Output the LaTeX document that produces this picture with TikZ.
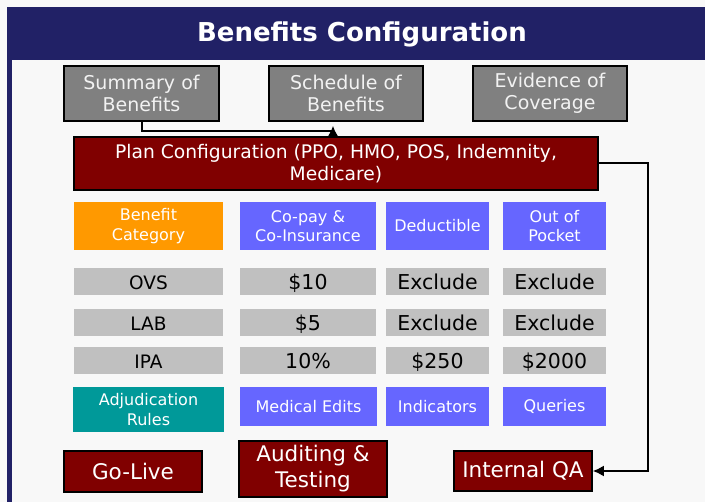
\documentclass[tikz,border=0pt]{standalone}
\usepackage{fontspec}
\setmainfont{DejaVu Sans}
\usetikzlibrary{arrows.meta,calc}
\definecolor{navy}{RGB}{33,33,102}
\definecolor{bg}{RGB}{248,248,248}
\definecolor{boxgray}{RGB}{128,128,128}
\definecolor{boxtext}{RGB}{242,242,242}
\definecolor{darkred}{RGB}{128,0,0}
\definecolor{orng}{RGB}{255,153,0}
\definecolor{violet}{RGB}{102,102,255}
\definecolor{cellgray}{RGB}{192,192,192}
\definecolor{teal}{RGB}{0,153,153}
\tikzset{
  box/.style={draw=black, line width=1.5pt, inner sep=0pt, align=center},
  graybox/.style={box, fill=boxgray, text=boxtext, font=\fontsize{19}{22.5}\selectfont},
  redbox/.style={box, fill=darkred, text=white},
  cell/.style={inner sep=0pt, align=center},
  hdr/.style={cell, text=white, font=\fontsize{16}{19.5}\selectfont},
  val/.style={cell, fill=cellgray, text=black, text height=17pt, text depth=0pt, font=\fontsize{20.5}{24}\selectfont},
  lbl/.style={cell, fill=cellgray, text=black, text height=15.5pt, text depth=0pt, font=\fontsize{18.5}{22}\selectfont},
  conn/.style={line width=2pt, -{Latex[length=11pt,width=11pt]}}
}
\begin{document}
\begin{tikzpicture}[x=1pt,y=-1pt]
\useasboundingbox (0,0) rectangle (705,502);
\fill[bg] (0,0) rectangle (705,502);
\fill[navy] (7,7) rectangle (705,60);
\fill[navy] (7,60) rectangle (12,502);
\node[font=\bfseries\fontsize{26}{30}\selectfont, text=white] (title) at (362,34) {Benefits Configuration};

\node[graybox, minimum width=155, minimum height=55] (sum) at (141.5,93.5) {Summary of\\Benefits};
\node[graybox, minimum width=154, minimum height=55] (sched) at (346,93.5) {Schedule of\\Benefits};
\node[graybox, minimum width=154, minimum height=55] (evid) at (550,93.5) {Evidence of\\Coverage};

\node[redbox, font=\fontsize{18.7}{22}\selectfont, minimum width=524, minimum height=53] (plan) at (336,163.5) {Plan Configuration (PPO, HMO, POS, Indemnity,\\Medicare)};

% header row
\node[hdr, fill=orng, minimum width=149, minimum height=48] (h1) at (148.5,226) {Benefit\\Category};
\node[hdr, fill=violet, minimum width=136, minimum height=48] (h2) at (308,226) {Co-pay \&\\Co-Insurance};
\node[hdr, fill=violet, minimum width=103, minimum height=48] (h3) at (437.5,226) {Deductible};
\node[hdr, fill=violet, minimum width=103, minimum height=48] (h4) at (554.5,226) {Out of\\Pocket};

% OVS
\node[lbl, minimum width=149, minimum height=27] (r1c1) at (148.5,281.5) {OVS};
\node[val, minimum width=136, minimum height=27] (r1c2) at (308,281.5) {\$10};
\node[val, minimum width=103, minimum height=27] (r1c3) at (437.5,281.5) {Exclude};
\node[val, minimum width=103, minimum height=27] (r1c4) at (554.5,281.5) {Exclude};
% LAB
\node[lbl, minimum width=149, minimum height=27] (r2c1) at (148.5,322.5) {LAB};
\node[val, minimum width=136, minimum height=27] (r2c2) at (308,322.5) {\$5};
\node[val, minimum width=103, minimum height=27] (r2c3) at (437.5,322.5) {Exclude};
\node[val, minimum width=103, minimum height=27] (r2c4) at (554.5,322.5) {Exclude};
% IPA
\node[lbl, minimum width=149, minimum height=27] (r3c1) at (148.5,360.5) {IPA};
\node[val, minimum width=136, minimum height=27] (r3c2) at (308,360.5) {10\%};
\node[val, minimum width=103, minimum height=27] (r3c3) at (437.5,360.5) {\$250};
\node[val, minimum width=103, minimum height=27] (r3c4) at (554.5,360.5) {\$2000};

% rules row
\node[hdr, fill=teal, minimum width=151, minimum height=45] (adj) at (148.5,409.5) {Adjudication\\Rules};
\node[hdr, fill=violet, minimum width=137, minimum height=39] (med) at (308.5,406.5) {Medical Edits};
\node[hdr, fill=violet, minimum width=103, minimum height=39] (ind) at (437.5,406.5) {Indicators};
\node[hdr, fill=violet, minimum width=103, minimum height=39] (qry) at (554.5,406.5) {Queries};

% bottom boxes
\node[redbox, font=\fontsize{21.5}{26}\selectfont, minimum width=138, minimum height=41] (go) at (133,471.5) {Go-Live};
\node[redbox, font=\fontsize{21.5}{26}\selectfont, minimum width=148, minimum height=56] (aud) at (313,469) {Auditing \&\\Testing};
\node[redbox, font=\fontsize{21.5}{26}\selectfont, minimum width=138, minimum height=40] (qa) at (523,471) {Internal QA};

% connectors
\draw[conn] (sum.south) -- ++(0,9) -| ($(sched.south)+(-13,4)$);
\draw[conn] (plan.east) -- ++(49,0) |- (qa.east);
\end{tikzpicture}
\end{document}
